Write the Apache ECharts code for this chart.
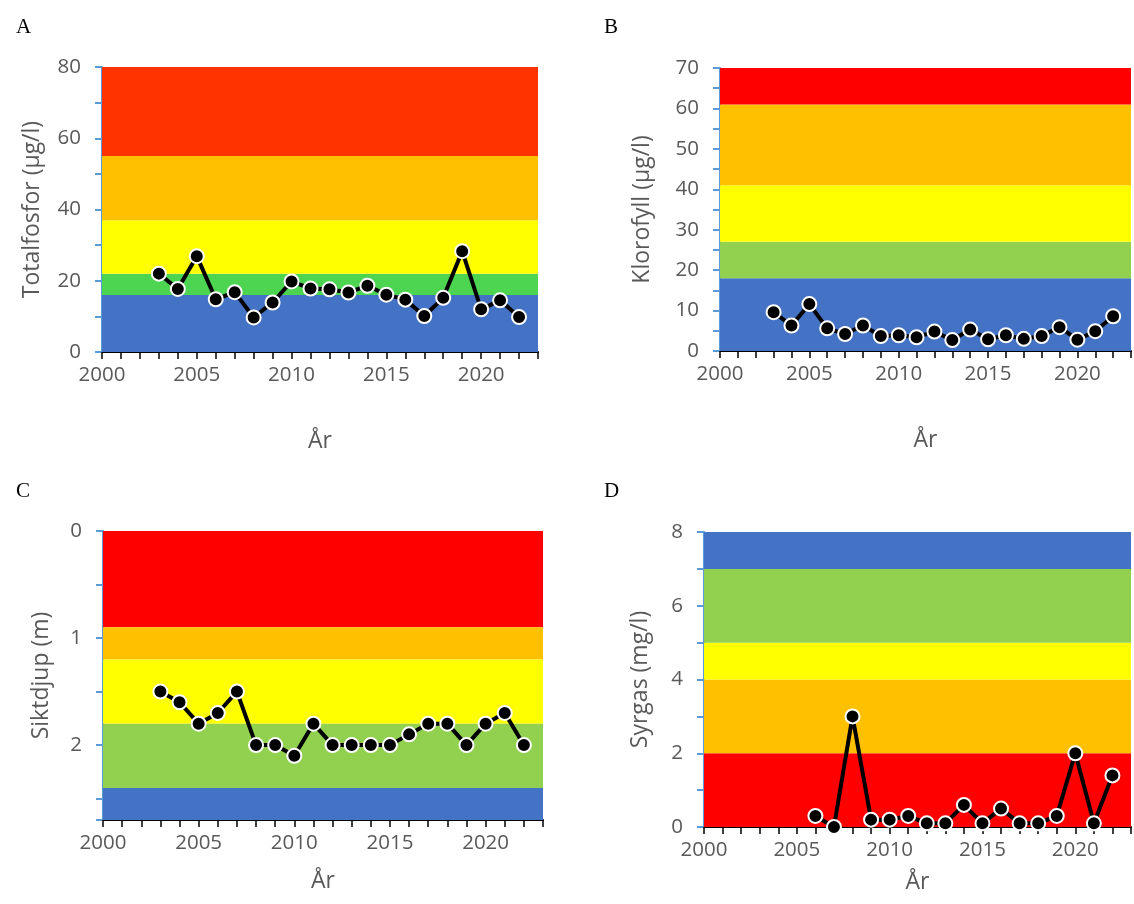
<!DOCTYPE html>
<html>
<head>
<meta charset="utf-8">
<script src="https://cdn.jsdelivr.net/npm/echarts@6/dist/echarts.min.js"></script>
<style>
  html, body { margin: 0; padding: 0; background: #fff; }
  #chart { width: 1134px; height: 904px; }
</style>
</head>
<body>
<div id="chart"></div>
<script>
// years and measured values
const yearsA = [2003, 2004, 2005, 2006, 2007, 2008, 2009, 2010, 2011, 2012, 2013, 2014, 2015, 2016, 2017, 2018, 2019, 2020, 2021, 2022];
const totalfosfor = [22, 17.7, 26.9, 14.8, 16.8, 9.7, 13.9, 19.8, 17.8, 17.6, 16.7, 18.6, 16.1, 14.7, 10.1, 15.2, 28.3, 12, 14.5, 9.8];
const yearsB = yearsA;
const klorofyll = [9.6, 6.3, 11.6, 5.6, 4.2, 6.3, 3.7, 3.9, 3.4, 4.8, 2.7, 5.3, 2.9, 3.9, 3.0, 3.7, 5.9, 2.8, 4.9, 8.6];
const yearsC = yearsA;
const siktdjup = [1.5, 1.6, 1.8, 1.7, 1.5, 2.0, 2.0, 2.1, 1.8, 2.0, 2.0, 2.0, 2.0, 1.9, 1.8, 1.8, 2.0, 1.8, 1.7, 2.0];
const yearsD = [2006, 2007, 2008, 2009, 2010, 2011, 2012, 2013, 2014, 2015, 2016, 2017, 2018, 2019, 2020, 2021, 2022];
const syrgas = [0.3, 0.0, 3.0, 0.2, 0.2, 0.3, 0.1, 0.1, 0.6, 0.1, 0.5, 0.1, 0.1, 0.3, 2.0, 0.1, 1.4];

// class limits (band edges) per panel
const limitsA = [0, 16, 22, 37, 55, 80];
const limitsB = [0, 18, 27, 41, 61, 70];
const limitsC = [0, 0.9, 1.2, 1.8, 2.4, 2.7];
const limitsD = [0, 2, 4, 5, 7, 8];

const xRange = [2000, 2023];
const panelNames = ['A', 'B', 'C', 'D'];
const yNames = ['Totalfosfor (µg/l)', 'Klorofyll (µg/l)', 'Siktdjup (m)', 'Syrgas (mg/l)'];

const blue = '#4472c4', green = '#92d050', yellow = '#ffff00', orange = '#ffc000', red = '#ff0000';
const bandColorsA = [blue, '#4dd551', yellow, orange, '#ff3300'];
const bandColorsB = [blue, green, yellow, orange, red];
const bandColorsC = [red, orange, yellow, green, blue];
const bandColorsD = [red, orange, yellow, green, blue];

const grey = '#595959';
const font = '"Open Sans", "Noto Sans", sans-serif';

function bands(limits, colors) {
  let out = [];
  for (let i = 0; i < colors.length; i++) {
    out.push([
      { xAxis: xRange[0], yAxis: limits[i], itemStyle: { color: colors[i], opacity: 1 } },
      { xAxis: xRange[1], yAxis: limits[i + 1] }
    ]);
  }
  return out;
}

function xAxisFor(idx, gap) {
  return {
    type: 'value', gridIndex: idx, min: xRange[0], max: xRange[1], interval: 1,
    name: 'År', nameLocation: 'middle', nameGap: gap,
    nameTextStyle: { color: grey, fontSize: 23, fontFamily: font },
    axisLine: { show: true, onZero: false, lineStyle: { color: '#000', width: 2 } },
    axisTick: { show: true, length: 7, lineStyle: { color: '#000', width: 1.5 } },
    axisLabel: {
      color: grey, fontSize: 20.5, fontFamily: font, margin: 13,
      formatter: v => (v % 5 === 0 ? String(v) : '')
    },
    splitLine: { show: false }
  };
}

function yAxisFor(idx, min, max, interval, labelStep, gap, inverse) {
  return {
    type: 'value', gridIndex: idx, min: min, max: max, interval: interval, inverse: !!inverse,
    name: yNames[idx], nameLocation: 'middle', nameGap: gap, nameRotate: 90,
    nameTextStyle: { color: grey, fontSize: 23, fontFamily: font },
    axisLine: { show: true, lineStyle: { color: '#5b9bd5', width: 2 } },
    axisTick: { show: true, length: 7, lineStyle: { color: '#5b9bd5', width: 2 } },
    axisLabel: {
      color: grey, fontSize: 20.5, fontFamily: font, margin: 21,
      formatter: v => {
        let r = Math.round(v / labelStep);
        return Math.abs(v - r * labelStep) < 1e-6 ? String(Math.round(v)) : '';
      }
    },
    splitLine: { show: false }
  };
}

function seriesFor(idx, years, vals, limits, colors) {
  return {
    type: 'line', xAxisIndex: idx, yAxisIndex: idx,
    data: years.map((y, i) => [y, vals[i]]),
    symbol: 'circle', symbolSize: 14,
    itemStyle: { color: '#000', borderColor: '#fff', borderWidth: 2 },
    lineStyle: { color: '#000', width: 4 },
    animation: false,
    markArea: { silent: true, data: bands(limits, colors) }
  };
}

let myChart = echarts.init(document.getElementById('chart'));
let option = {
  animation: false,
  title: panelNames.map((t, i) => ({
    text: t, left: i % 2 === 0 ? 11 : 599, top: i < 2 ? 12 : 476,
    textStyle: { fontFamily: '"Liberation Serif", "DejaVu Serif", serif', fontWeight: 'normal', fontSize: 21, color: '#000' }
  })),
  grid: [
    { left: 102, top: 67, width: 436, height: 285 },
    { left: 720, top: 68, width: 428, height: 283 },
    { left: 103, top: 531, width: 440, height: 289 },
    { left: 704, top: 532, width: 431, height: 295 }
  ],
  xAxis: [xAxisFor(0, 78), xAxisFor(1, 78), xAxisFor(2, 50), xAxisFor(3, 44)],
  yAxis: [
    yAxisFor(0, 0, 80, 10, 20, 58),
    yAxisFor(1, 0, 70, 5, 10, 66),
    yAxisFor(2, 0, 2.7, 0.5, 1, 50, true),
    yAxisFor(3, 0, 8, 1, 2, 52)
  ],
  series: [
    seriesFor(0, yearsA, totalfosfor, limitsA, bandColorsA),
    seriesFor(1, yearsB, klorofyll, limitsB, bandColorsB),
    seriesFor(2, yearsC, siktdjup, limitsC, bandColorsC),
    seriesFor(3, yearsD, syrgas, limitsD, bandColorsD)
  ]
};
myChart.setOption(option);
</script>
</body>
</html>
